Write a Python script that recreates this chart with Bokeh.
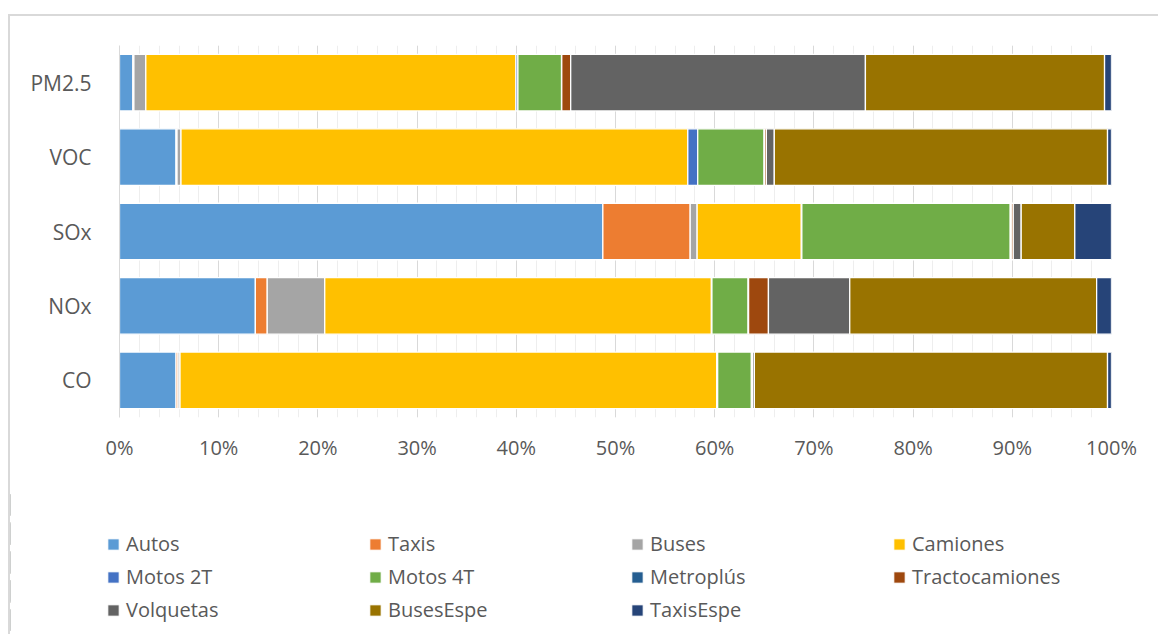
from bokeh.plotting import figure
from bokeh.layouts import column
from bokeh.models import (ColumnDataSource, FactorRange, Range1d, FixedTicker,
                          NumeralTickFormatter, Legend, LegendItem)
from bokeh.embed import file_html
from bokeh.resources import INLINE

# categories bottom -> top
pollutants = ["CO", "NOx", "SOx", "VOC", "PM2.5"]

series = ["Autos", "Taxis", "Buses", "Camiones", "Motos 2T", "Motos 4T",
          "Metroplús", "Tractocamiones", "Volquetas", "BusesEspe", "TaxisEspe"]

# percent share per pollutant (order: CO, NOx, SOx, VOC, PM2.5)
autos          = [5.7, 13.7, 48.7, 5.7, 1.35]
taxis          = [0.2, 1.2, 8.8, 0.1, 0.1]
buses          = [0.2, 5.8, 0.7, 0.4, 1.2]
camiones       = [54.1, 39.0, 10.5, 51.1, 37.3]
motos_2t       = [0.1, 0.05, 0.05, 1.0, 0.2]
motos_4t       = [3.4, 3.65, 21.0, 6.7, 4.4]
metroplus      = [0.05, 0.05, 0.1, 0.02, 0.02]
tractocamiones = [0.05, 2.0, 0.2, 0.2, 0.9]
volquetas      = [0.2, 8.2, 0.8, 0.8, 29.7]
buses_espe     = [35.6, 24.9, 5.4, 33.6, 24.1]
taxis_espe     = [0.4, 1.5, 3.7, 0.4, 0.7]

colors = ["#5B9BD5", "#ED7D31", "#A5A5A5", "#FFC000", "#4472C4", "#70AD47",
          "#255E91", "#9E480E", "#636363", "#997300", "#264478"]

tick_values = [0, 0.1, 0.2, 0.3, 0.4, 0.5, 0.6, 0.7, 0.8, 0.9, 1.0]

rows = [autos, taxis, buses, camiones, motos_2t, motos_4t, metroplus,
        tractocamiones, volquetas, buses_espe, taxis_espe]
totals = [sum(r[i] for r in rows) for i in range(len(pollutants))]
data = {"cat": pollutants}
for name, r in zip(series, rows):
    data[name] = [v / t for v, t in zip(r, totals)]
source = ColumnDataSource(data)

FONT = "Open Sans"
TXT = "#595959"
BORDER = "2px solid #d9d9d9"

# ---- main chart ----
p = figure(width=1150, height=476, output_backend="svg", toolbar_location=None,
           y_range=FactorRange(*pollutants, range_padding=0),
           x_range=Range1d(0, 1),
           min_border_left=109, min_border_right=49, min_border_top=29,
           min_border_bottom=75)
p.frame_align = False
p.margin = (14, 0, 0, 8)
p.styles = {"border-top": BORDER, "border-left": BORDER, "box-sizing": "border-box"}
p.outline_line_color = None

renderers = p.hbar_stack(series, y="cat", height=0.76, color=colors,
                         source=source, line_color="white", line_width=1.3)

minor = [i / 50 for i in range(51)]
p.xaxis.ticker = FixedTicker(ticks=tick_values, minor_ticks=minor)
p.xaxis.formatter = NumeralTickFormatter(format="0%")
p.xaxis.axis_line_color = None
p.xaxis.major_tick_line_color = None
p.xaxis.minor_tick_line_color = None
p.xaxis.major_label_standoff = 10
p.xaxis.major_label_text_font = FONT
p.xaxis.major_label_text_font_size = "20px"
p.xaxis.major_label_text_color = TXT

p.yaxis.axis_line_color = "#d9d9d9"
p.yaxis.major_tick_line_color = None
p.yaxis.minor_tick_line_color = None
p.yaxis.major_label_standoff = 22
p.yaxis.major_label_text_font = FONT
p.yaxis.major_label_text_font_size = "21px"
p.yaxis.major_label_text_color = TXT

p.xgrid.grid_line_color = "#d9d9d9"
p.xgrid.minor_grid_line_color = "#eeeeee"
p.ygrid.grid_line_color = None

# ---- legend strip (same series; its x range keeps the bars out of view) ----
q = figure(width=1150, height=144, output_backend="svg", toolbar_location=None,
           y_range=FactorRange(*pollutants), x_range=Range1d(5, 6),
           x_axis_location=None, y_axis_location=None,
           min_border_left=0, min_border_right=0, min_border_top=0,
           min_border_bottom=0)
q.frame_align = False
q.margin = (0, 0, 0, 8)
q.styles = {"border-left": BORDER, "box-sizing": "border-box"}
q.outline_line_color = None
q.xgrid.grid_line_color = None
q.ygrid.grid_line_color = None
legend_renderers = q.hbar_stack(series, y="cat", height=0.76, color=colors,
                                source=source, line_color="white", line_width=0.8)

legend = Legend(items=[LegendItem(label=s, renderers=[r])
                       for s, r in zip(series, legend_renderers)],
                orientation="horizontal", ncols=4, location=(96, 11),
                padding=0, margin=0, spacing=6, glyph_width=14, glyph_height=14,
                label_standoff=6, label_width=236,
                label_text_font=FONT, label_text_font_size="20px",
                label_text_color=TXT, border_line_color=None,
                background_fill_alpha=0)
q.add_layout(legend, "center")

layout = column(p, q, spacing=0)
open("out.html", "w").write(file_html(layout, INLINE))
